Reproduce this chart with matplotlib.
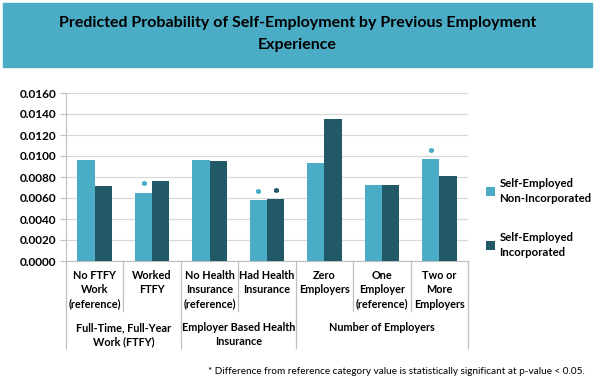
import numpy as np
import matplotlib.pyplot as plt
from matplotlib.patches import Rectangle
import matplotlib.transforms as mtransforms

plt.rcParams['font.family'] = ['Lato', 'DejaVu Sans']

categories = ['No FTFY\nWork\n(reference)', 'Worked\nFTFY', 'No Health\nInsurance\n(reference)',
              'Had Health\nInsurance', 'Zero\nEmployers', 'One\nEmployer\n(reference)', 'Two or\nMore\nEmployers']
groups = ['Full-Time, Full-Year\nWork (FTFY)', 'Employer Based Health\nInsurance', 'Number of Employers']
group_sizes = [2, 2, 3]
non_inc = [0.0096, 0.0065, 0.0096, 0.0058, 0.0093, 0.0072, 0.0097]
inc = [0.0071, 0.0076, 0.0095, 0.0059, 0.0135, 0.0072, 0.0081]
star_non_inc = [False, True, False, True, False, False, True]
star_inc = [False, False, False, True, False, False, False]

c_light = '#4BACC6'
c_dark = '#215968'
fs = 7.8

fig = plt.figure(figsize=(5.95, 3.83), dpi=100)
ax = fig.add_axes([66/595, 1-261/383, 402/595, 168/383])

x = np.arange(len(categories))
w = 0.3
ax.bar(x - w/2, non_inc, w, color=c_light, label='Self-Employed\nNon-Incorporated', zorder=3)
ax.bar(x + w/2, inc, w, color=c_dark, label='Self-Employed\nIncorporated', zorder=3)

# significance stars
for i in range(len(x)):
    if star_non_inc[i]:
        ax.plot(x[i] - w/2, non_inc[i] + 0.0009, marker=(6, 2, 0), ms=3.5, mew=1.1, color=c_light, zorder=4)
    if star_inc[i]:
        ax.plot(x[i] + w/2, inc[i] + 0.0009, marker=(6, 2, 0), ms=3.5, mew=1.1, color=c_dark, zorder=4)

ax.set_xlim(-0.5, len(categories) - 0.5)
ax.set_ylim(0, 0.016)
ax.set_yticks(np.arange(0, 0.0161, 0.002))
ax.set_yticklabels(['%.4f' % v for v in np.arange(0, 0.0161, 0.002)], fontsize=8.5, fontweight='bold')
ax.yaxis.grid(True, color='#D9D9D9', lw=0.9, zorder=0)
ax.tick_params(axis='y', length=4, color='#BFBFBF', pad=3)
ax.set_xticks([])
for s in ['top', 'right']:
    ax.spines[s].set_visible(False)
ax.spines['left'].set_color('#BFBFBF')
ax.spines['bottom'].set_color('#BFBFBF')

trans = mtransforms.blended_transform_factory(ax.transData, ax.transAxes)
for i, lab in enumerate(categories):
    ax.text(x[i], -0.055, lab, transform=trans, ha='center', va='top', fontsize=fs,
            fontweight='bold', linespacing=1.35)

# dividers
start = 0
bounds = [-0.5]
for gs in group_sizes:
    start += gs
    bounds.append(start - 0.5)
for b in np.arange(-0.5, len(categories), 1.0):
    depth = -0.52 if b in bounds else -0.30
    ax.plot([b, b], [0, depth], transform=trans, color='#BFBFBF', lw=0.9, clip_on=False)

start = 0
for g, gs in zip(groups, group_sizes):
    cx = start + (gs - 1) / 2
    ax.text(cx, -0.365, g, transform=trans, ha='center', va='top', fontsize=fs,
            fontweight='bold', linespacing=1.35)
    start += gs

leg = fig.legend(loc='center left', bbox_to_anchor=(476/595, 1-218/383), frameon=False,
                 handlelength=0.8, handleheight=0.8, handletextpad=0.35,
                 labelspacing=2.4, prop={'weight': 'bold', 'size': 8.2})
for t in leg.get_texts():
    t.set_linespacing(1.5)

# title banner
fig.patches.append(Rectangle((3/595, 1-67/383), 589/595, 64/383, transform=fig.transFigure,
                             color=c_light, zorder=0))
fig.text(0.5, 1-34/383, 'Predicted Probability of Self-Employment by Previous Employment\nExperience',
         ha='center', va='center', fontsize=11.5, fontweight='bold', linespacing=1.75)

fig.text(585/595, 1-371/383,
         '* Difference from reference category value is statistically significant at p-value < 0.05.',
         ha='right', va='center', fontsize=7.2)

fig.savefig('out.png', dpi=100)
